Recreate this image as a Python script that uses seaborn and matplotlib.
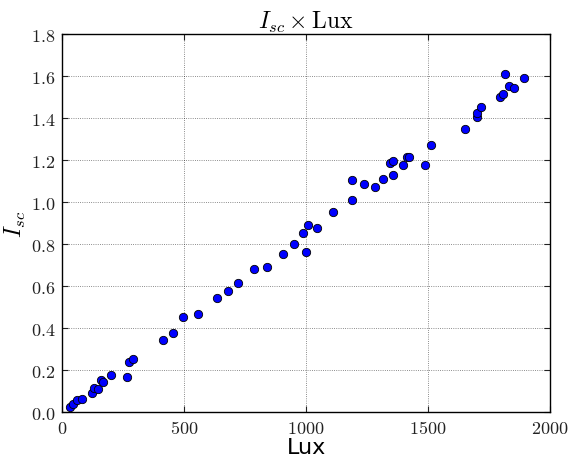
import pandas as pd
import seaborn as sns
import matplotlib.pyplot as plt
from matplotlib.ticker import FuncFormatter, MultipleLocator

# Values
lux = [34, 46, 61, 83, 121, 133, 146, 161, 167, 201,
       267, 273, 292, 414, 453, 497, 558, 636, 681, 722,
       785, 840, 907, 952, 989, 999, 1007, 1044, 1109, 1187,
       1187, 1239, 1284, 1313, 1343, 1355, 1354, 1395, 1413, 1422,
       1488, 1513, 1650, 1702, 1702, 1717, 1796, 1808, 1814, 1833,
       1850, 1893]
isc = [0.025, 0.037, 0.056, 0.060, 0.092, 0.114, 0.108, 0.151, 0.143, 0.176,
       0.167, 0.240, 0.252, 0.343, 0.376, 0.452, 0.468, 0.544, 0.575, 0.613,
       0.681, 0.690, 0.752, 0.800, 0.854, 0.762, 0.889, 0.878, 0.954, 1.010,
       1.105, 1.086, 1.070, 1.108, 1.187, 1.195, 1.130, 1.175, 1.213, 1.214,
       1.175, 1.270, 1.346, 1.405, 1.425, 1.454, 1.500, 1.514, 1.608, 1.552,
       1.544, 1.589]

df = pd.DataFrame({'Lux': lux, 'Isc': isc})

# old-school matplotlib look
plt.rcParams.update({
    'mathtext.fontset': 'cm',
    'xtick.direction': 'in',
    'ytick.direction': 'in',
    'xtick.top': True,
    'ytick.right': True,
    'xtick.major.size': 4,
    'ytick.major.size': 4,
    'axes.linewidth': 1.0,
    'axes.edgecolor': 'black',
})

fig = plt.figure(figsize=(5.69, 4.6), dpi=100)
ax = fig.add_axes([0.109, 0.102, 0.858, 0.822])

sns.scatterplot(data=df, x='Lux', y='Isc', ax=ax, color='#0000ff',
                edgecolor='black', linewidth=0.6, s=36, zorder=3)

ax.set_xlim(0, 2000)
ax.set_ylim(0, 1.8)
ax.xaxis.set_major_locator(MultipleLocator(500))
ax.yaxis.set_major_locator(MultipleLocator(0.2))
ax.xaxis.set_major_formatter(FuncFormatter(lambda v, p: f"${v:.0f}$"))
ax.yaxis.set_major_formatter(FuncFormatter(lambda v, p: f"${v:.1f}$"))
ax.tick_params(labelsize=13, pad=5, colors='#222222')

ax.grid(True, color='black', linestyle=':', linewidth=0.6, alpha=0.6)
ax.set_axisbelow(True)

ax.set_title(r'$I_{sc} \times \mathrm{Lux}$', fontsize=17, pad=4)
ax.set_xlabel('Lux', fontsize=16, labelpad=0)
ax.set_ylabel(r'$I_{sc}$', fontsize=17, labelpad=2)

plt.savefig('out.png', dpi=100)
plt.close()
